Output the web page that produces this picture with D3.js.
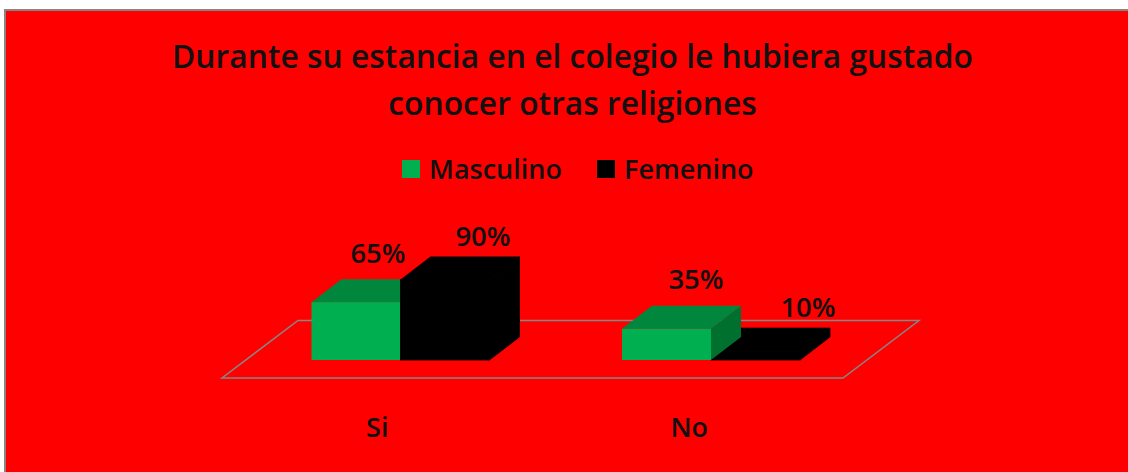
<!DOCTYPE html>
<html><head><meta charset="utf-8">
<script src="https://cdn.jsdelivr.net/npm/d3@7/dist/d3.min.js"></script>
<style>html,body{margin:0;padding:0;background:#fff;overflow:hidden}svg{display:block}</style>
</head><body><svg id="c" width="1128" height="472"></svg>
<script>
const categories = ["Si", "No"];
const seriesNames = ["Masculino", "Femenino"];
const masculino = [65, 35];
const femenino = [90, 10];
const titleLines = ["Durante su estancia en el colegio le hubiera gustado", "conocer otras religiones"];
const seriesColors = {Masculino:{front:"#00B050",top:"#00873D",side:"#00702F"},Femenino:{front:"#000",top:"#000",side:"#000"}};

const svg = d3.select("#c");
const FONT = "'Open Sans','Noto Sans',sans-serif";
svg.append("rect").attr("x",5).attr("y",10).attr("width",1130).attr("height",470)
  .attr("fill","#FF0000").attr("stroke","#868686").attr("stroke-width",2);

const base = 360, dx = 30, dy = -23;
const x0 = d3.scaleBand().domain(categories).range([222,843]);
const x1 = d3.scaleBand().domain(seriesNames).range([0,178]);
const y = d3.scaleLinear().domain([0,100]).range([0,89]);

// floor
const fl = [[222,378],[843,378],[919,320.5],[298,320.5]];
svg.append("path").attr("d",d3.line()(fl)+"Z").attr("fill","none").attr("stroke","#868686").attr("stroke-width",1.5);

const rows = [];
categories.forEach((c,i)=>{
  rows.push({c,s:"Masculino",v:masculino[i]});
  rows.push({c,s:"Femenino",v:femenino[i]});
});
// the taller box of each pair is painted last, as in the reference
const order = rows.slice().sort((a,b)=>d3.ascending(a.v,b.v));
const gs = svg.append("g");
order.forEach(d=>{
  const l = x0(d.c)+89.5+x1(d.s), w = x1.bandwidth(), h = y(d.v), t = base-h, col = seriesColors[d.s];
  const seam = d.s==="Femenino" ? "#000" : "none";
  gs.append("path").attr("d",d3.line()([[l+w,t],[l+w+dx,t+dy],[l+w+dx,base+dy],[l+w,base]])+"Z").attr("fill",col.side).attr("stroke",seam).attr("stroke-width",.8);
  gs.append("path").attr("d",d3.line()([[l,t],[l+w,t],[l+w+dx,t+dy],[l+dx,t+dy]])+"Z").attr("fill",col.top).attr("stroke",seam).attr("stroke-width",.8);
  gs.append("rect").attr("x",l).attr("y",t).attr("width",w).attr("height",h).attr("fill",col.front).attr("stroke",seam).attr("stroke-width",.8);
});

// labels
const labelOffsets = {Si:{Masculino:[66.5,-39.6],Femenino:[82.5,-34]},No:{Masculino:[74,-40],Femenino:[97,-34]}};
rows.forEach(d=>{
  const l = x0(d.c)+89.5+x1(d.s), t = base-y(d.v), o = labelOffsets[d.c][d.s];
  svg.append("text").attr("x",l+o[0]).attr("y",t+o[1]).attr("text-anchor","middle")
    .attr("font-family",FONT).attr("font-size",27.5).attr("font-weight",600).attr("fill","#111").text(d.v+"%");
});

// category labels
const catShift = {Si:0, No:1.5};
categories.forEach(c=>{
  svg.append("text").attr("x",x0(c)+x0.bandwidth()/2+catShift[c]).attr("y",437).attr("text-anchor","middle")
    .attr("font-family",FONT).attr("font-size",27).attr("font-weight",600).attr("fill","#111").text(c);
});

// title
titleLines.forEach((s,i)=>{
  svg.append("text").attr("x",572.5).attr("y",68+i*46.5).attr("text-anchor","middle")
    .attr("font-family",FONT).attr("font-size",31.8).attr("font-weight",600).attr("fill","#111").text(s);
});

// legend
const legendX = [402,597], legendTextX=[429,624];
seriesNames.forEach((s,i)=>{
  svg.append("rect").attr("x",legendX[i]).attr("y",160).attr("width",18).attr("height",18).attr("fill",seriesColors[s].front);
  svg.append("text").attr("x",legendTextX[i]).attr("y",179).attr("font-family",FONT).attr("font-size",27).attr("font-weight",600).attr("fill","#111").text(s);
});
</script></body></html>
